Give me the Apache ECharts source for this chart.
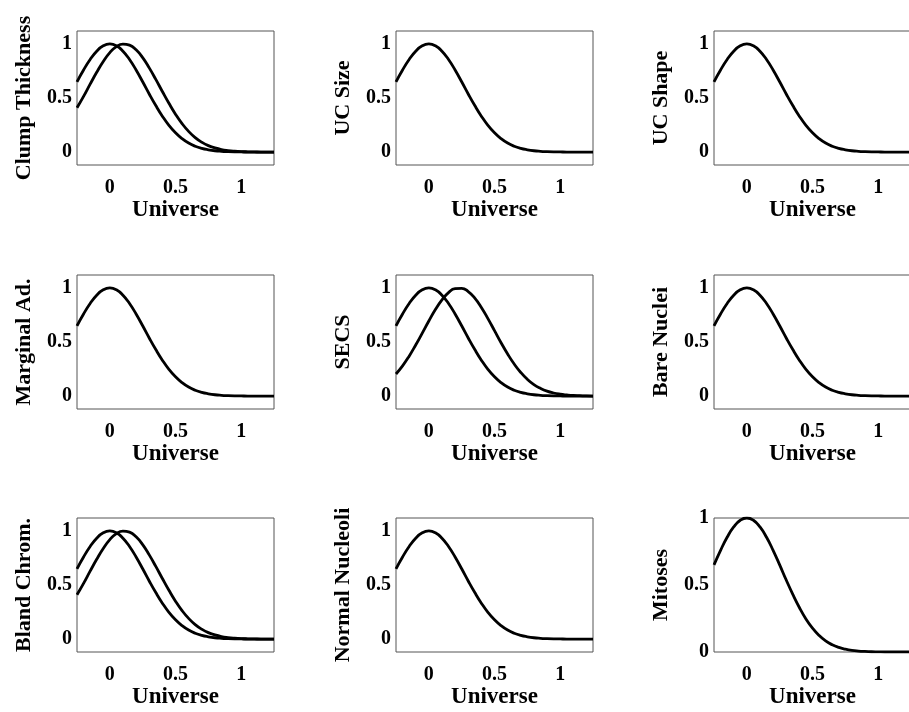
<!DOCTYPE html>
<html>
<head>
<meta charset="utf-8">
<script src="https://cdn.jsdelivr.net/npm/echarts@6/dist/echarts.min.js"></script>
<style>
  html, body { margin: 0; padding: 0; background: #fff; overflow: hidden; }
  #chart { width: 909px; height: 712px; }
</style>
</head>
<body>
<div id="chart"></div>
<script>
// Universe sample points shared by every membership function
const universe = [-0.25, -0.2, -0.15, -0.1, -0.05, 0, 0.05, 0.1, 0.15, 0.2, 0.25, 0.3, 0.35, 0.4, 0.45, 0.5,
  0.55, 0.6, 0.65, 0.7, 0.75, 0.8, 0.85, 0.9, 0.95, 1, 1.05, 1.1, 1.15, 1.2, 1.25];

// Membership function centred at 0 (present in every panel)
const mfCentre = [0.65, 0.759, 0.856, 0.933, 0.983, 1, 0.983, 0.933, 0.856, 0.759, 0.65, 0.537, 0.43, 0.332, 0.247, 0.178,
  0.124, 0.083, 0.054, 0.034, 0.021, 0.012, 0.007, 0.004, 0.002, 0.001, 0, 0, 0, 0, 0];

// Membership function shifted slightly right (Clump Thickness, Bland Chrom.)
const mfShifted = [0.409, 0.515, 0.628, 0.738, 0.838, 0.92, 0.976, 0.999, 0.989, 0.946, 0.874, 0.779, 0.672, 0.56, 0.451, 0.35,
  0.263, 0.191, 0.134, 0.091, 0.059, 0.038, 0.023, 0.014, 0.008, 0.004, 0.002, 0.001, 0, 0, 0];

// Membership function shifted further right (SECS)
const mfSecs = [0.204, 0.279, 0.369, 0.472, 0.582, 0.694, 0.8, 0.89, 0.957, 0.994, 0.997, 0.967, 0.906, 0.82, 0.716, 0.605,
  0.493, 0.389, 0.296, 0.218, 0.155, 0.106, 0.071, 0.045, 0.028, 0.017, 0.01, 0.005, 0.003, 0.001, 0];

const panelNames = ['Clump Thickness', 'UC Size', 'UC Shape',
  'Marginal Ad.', 'SECS', 'Bare Nuclei',
  'Bland Chrom.', 'Normal Nucleoli', 'Mitoses'];

const panelCurves = [
  [mfCentre, mfShifted], [mfCentre], [mfCentre],
  [mfCentre], [mfCentre, mfSecs], [mfCentre],
  [mfCentre, mfShifted], [mfCentre], [mfCentre]
];

const xTicks = [0, 0.5, 1];
const yTicks = [0, 0.5, 1];
const xLabelName = 'Universe';

// Panel frame layout (the right column runs past the page edge)
const colLeft = [77, 396, 714];
const rowTop = [31, 275, 518];
const boxW = 197, boxH = 134;

const font = 'Liberation Serif, Times New Roman, serif';

const grids = [], xAxes = [], yAxes = [], series = [];
panelNames.forEach((name, i) => {
  const r = Math.floor(i / 3), c = i % 3;
  const isMitoses = name === 'Mitoses';
  grids.push({
    left: colLeft[c], top: rowTop[r], width: boxW, height: boxH,
    show: true, borderColor: '#555', borderWidth: 1, backgroundColor: 'transparent'
  });
  xAxes.push({
    type: 'value', gridIndex: i, min: -0.25, max: 1.25,
    name: xLabelName, nameLocation: 'middle', nameGap: 34,
    nameTextStyle: { fontFamily: font, fontWeight: 'bold', fontSize: 23, color: '#000' },
    axisLine: { show: false }, axisTick: { show: false }, splitLine: { show: false },
    axisLabel: { customValues: xTicks, margin: 13, fontFamily: font, fontWeight: 'bold', fontSize: 20, color: '#000' }
  });
  yAxes.push({
    type: 'value', gridIndex: i,
    min: isMitoses ? 0 : -0.12, max: isMitoses ? 1 : 1.12,
    name: name, nameLocation: 'middle', nameRotate: 90, nameGap: 42,
    nameTextStyle: { fontFamily: font, fontWeight: 'bold', fontSize: 22, color: '#000' },
    axisLine: { show: false }, axisTick: { show: false }, splitLine: { show: false },
    axisLabel: { customValues: yTicks, margin: 5, fontFamily: font, fontWeight: 'bold', fontSize: 20, color: '#000' }
  });
  panelCurves[i].forEach(curve => {
    series.push({
      type: 'line', xAxisIndex: i, yAxisIndex: i,
      data: universe.map((u, k) => [u, curve[k]]),
      smooth: 0.5, showSymbol: false, symbol: 'none', clip: true,
      lineStyle: { color: '#000', width: 2.8 }
    });
  });
});

// Canvas is wider than the page so the right column's frame is cut off at the edge
const el = document.getElementById('chart');
el.style.width = '930px';
const chart = echarts.init(el, null, { renderer: 'canvas', width: 930, height: 712 });
chart.setOption({
  backgroundColor: '#fff',
  animation: false,
  grid: grids,
  xAxis: xAxes,
  yAxis: yAxes,
  series: series
});
</script>
</body>
</html>
